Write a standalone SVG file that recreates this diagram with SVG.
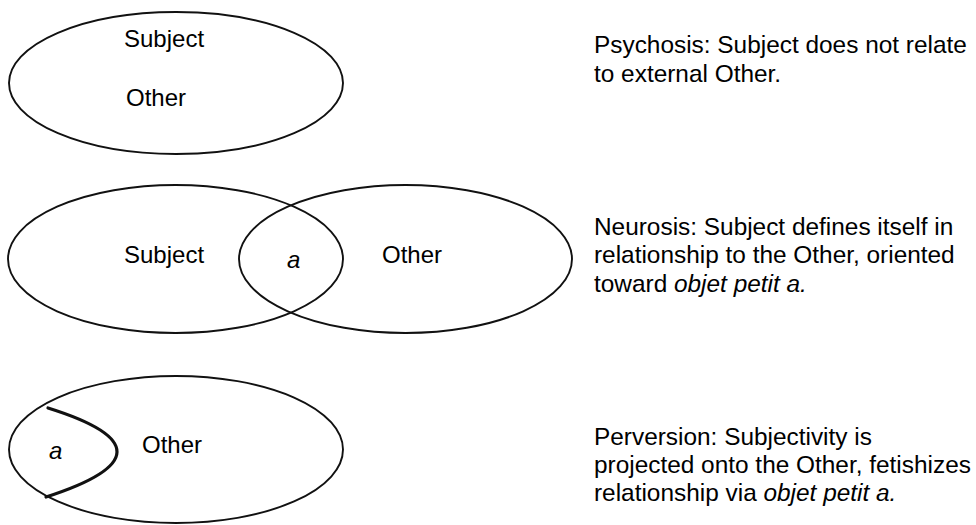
<svg xmlns="http://www.w3.org/2000/svg" width="976" height="525" viewBox="0 0 976 525">
<style>
  .shape { fill: none; stroke: #111; stroke-width: 1.9; }
  .cut { fill: none; stroke: #111; stroke-width: 3.2; stroke-linecap: round; }
  text { font-family: "Liberation Sans", Arial, Helvetica, sans-serif; font-size: 24px; fill: #000; }
  .cap { font-size: 24.4px; }
  .it { font-style: italic; }
</style>
<rect width="976" height="525" fill="#ffffff"/>

<g id="psychosis">
  <ellipse class="shape" cx="176" cy="83" rx="167" ry="71"/>
  <text x="124" y="47">Subject</text>
  <text x="126" y="106">Other</text>
</g>
<g id="psychosis-caption" class="cap">
  <text class="cap" x="594" y="53">Psychosis: Subject does not relate</text>
  <text class="cap" x="594" y="82">to external Other.</text>
</g>

<g id="neurosis">
  <ellipse id="neurosis-subject" class="shape" cx="175.5" cy="259" rx="167.5" ry="74"/>
  <ellipse id="neurosis-other" class="shape" cx="405.5" cy="259" rx="166.5" ry="74"/>
  <text x="124" y="263">Subject</text>
  <text class="it" x="287" y="268">a</text>
  <text x="382" y="263">Other</text>
</g>
<g id="neurosis-caption">
  <text class="cap" x="594" y="235">Neurosis: Subject defines itself in</text>
  <text class="cap" x="594" y="263">relationship to the Other, oriented</text>
  <text class="cap" x="594" y="292">toward <tspan class="it">objet petit a.</tspan></text>
</g>

<g id="perversion">
  <ellipse class="shape" cx="176" cy="449.5" rx="167" ry="73.5"/>
  <path class="cut" d="M48,408 Q187,451.5 46,497"/>
  <text class="it" x="49" y="459">a</text>
  <text x="142" y="453">Other</text>
</g>
<g id="perversion-caption">
  <text class="cap" x="594" y="445">Perversion: Subjectivity is</text>
  <text class="cap" x="594" y="473">projected onto the Other, fetishizes</text>
  <text class="cap" x="594" y="501">relationship via <tspan class="it">objet petit a.</tspan></text>
</g>
</svg>
